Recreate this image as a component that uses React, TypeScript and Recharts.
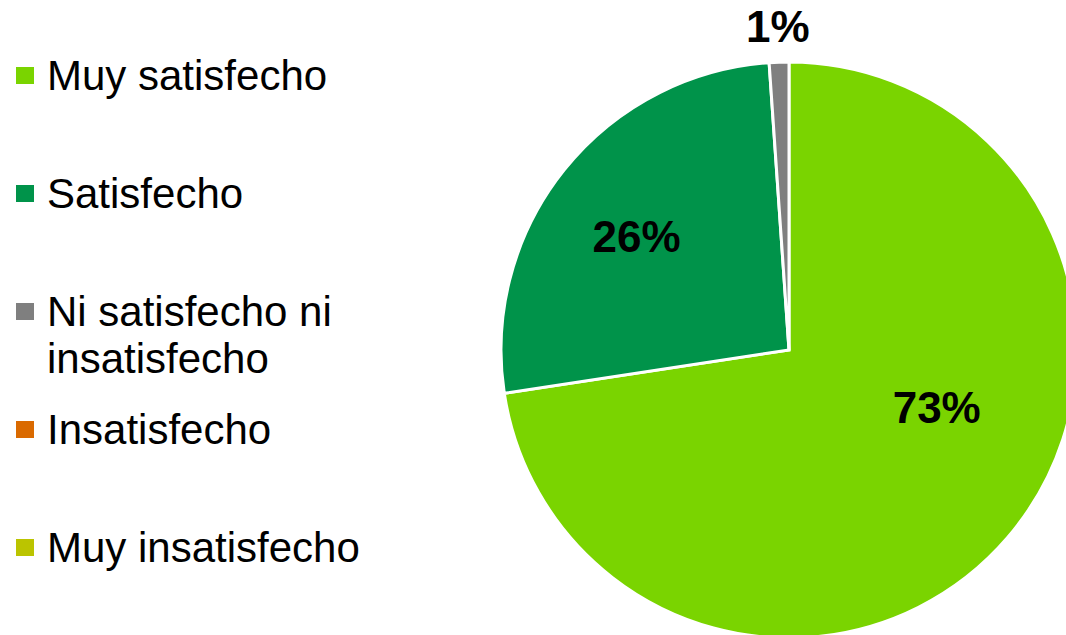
import React from "react";
import { PieChart, Pie, Cell } from "recharts";

const categories = [
  "Muy satisfecho",
  "Satisfecho",
  "Ni satisfecho ni insatisfecho",
  "Insatisfecho",
  "Muy insatisfecho",
];
const values = [72.6, 26.3, 1.1, 0, 0];
const colors = ["#7AD400", "#00934A", "#7F7F7F", "#DA6A00", "#BBC400"];

const data = categories.map((name, i) => ({ name, value: values[i] }));

const RAD = Math.PI / 180;
const labelRadiusFactor = [0.55, 0.66, 1.125];
const labelAngleShift = [19.5, 2, 0];
const LABEL_FONT = 44;

const renderLabel = (props: any) => {
  const { cx, cy, midAngle, outerRadius, percent, index, value } = props;
  if (!value) return null;
  const r = outerRadius * (labelRadiusFactor[index] ?? 0.6);
  const a = (midAngle + (labelAngleShift[index] ?? 0)) * RAD;
  const x = cx + r * Math.cos(-a);
  const y = cy + r * Math.sin(-a);
  return (
    <text
      x={x}
      y={y + LABEL_FONT * 0.358}
      textAnchor="middle"
      fill="#000"
      fontSize={LABEL_FONT}
      fontWeight="bold"
      fontFamily="'Liberation Sans', Arial, sans-serif"
    >
      {`${Math.round(percent * 100)}%`}
    </text>
  );
};

const Legend = () => (
  <div
    style={{
      position: "absolute",
      left: 0,
      top: 52,
      fontFamily: "'Liberation Sans', Arial, sans-serif",
      fontSize: 42,
      lineHeight: "47px",
      color: "#000",
    }}
  >
    {categories.map((c, i) => (
      <div key={c} style={{ position: "relative", height: 118 }}>
        <div
          style={{
            position: "absolute",
            left: 16,
            top: 15,
            width: 18,
            height: 17,
            background: colors[i],
          }}
        />
        <div style={{ position: "absolute", left: 47, top: 0, width: 320 }}>{c}</div>
      </div>
    ))}
  </div>
);

export default function App() {
  return (
    <div
      style={{
        position: "absolute",
        left: 0,
        top: 0,
        width: 1066,
        height: 635,
        background: "#fff",
        overflow: "hidden",
      }}
    >
      <PieChart
        width={1066}
        height={635}
        margin={{ top: 0, right: 0, bottom: 0, left: 0 }}
        style={{ position: "absolute", left: 0, top: 0 }}
      >
        <Pie
          data={data}
          dataKey="value"
          nameKey="name"
          cx={789}
          cy={350}
          outerRadius={288}
          startAngle={90}
          endAngle={-270}
          stroke="#fff"
          strokeWidth={3}
          label={renderLabel}
          labelLine={false}
          isAnimationActive={false}
        >
          {data.map((d, i) => (
            <Cell key={d.name} fill={colors[i]} />
          ))}
        </Pie>
      </PieChart>
      <Legend />
    </div>
  );
}
